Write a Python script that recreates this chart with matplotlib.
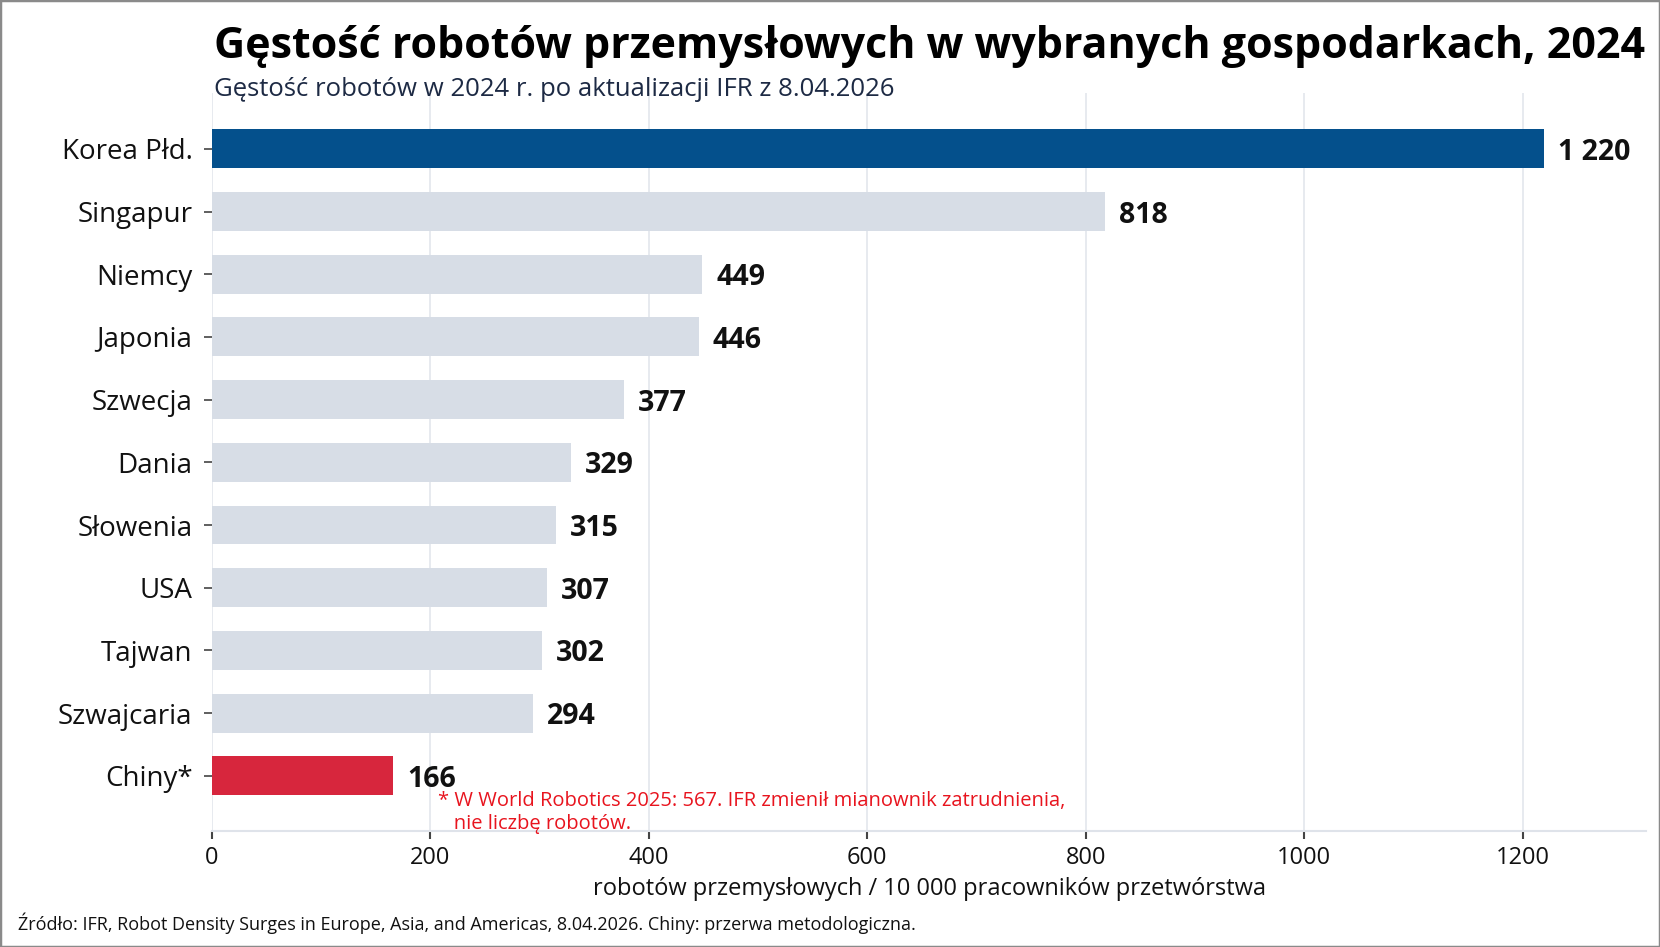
import matplotlib
matplotlib.use("Agg")
import matplotlib.pyplot as plt
from matplotlib.patches import Rectangle

# data
countries = ["Korea Płd.", "Singapur", "Niemcy", "Japonia", "Szwecja", "Dania",
             "Słowenia", "USA", "Tajwan", "Szwajcaria", "Chiny*"]
density = [1220, 818, 449, 446, 377, 329, 315, 307, 302, 294, 166]
value_labels = ["1 220", "818", "449", "446", "377", "329", "315", "307", "302", "294", "166"]
x_ticks = [0, 200, 400, 600, 800, 1000, 1200]

title = "Gęstość robotów przemysłowych w wybranych gospodarkach, 2024"
subtitle = "Gęstość robotów w 2024 r. po aktualizacji IFR z 8.04.2026"
xlabel = "robotów przemysłowych / 10 000 pracowników przetwórstwa"
note = "* W World Robotics 2025: 567. IFR zmienił mianownik zatrudnienia,\n   nie liczbę robotów."
source = "Źródło: IFR, Robot Density Surges in Europe, Asia, and Americas, 8.04.2026. Chiny: przerwa metodologiczna."

blue = "#04508c"
grey = "#d7dde6"
red = "#d7263d"

plt.rcParams['font.family'] = ['Open Sans', 'DejaVu Sans']

W, H = 1660, 947
fig = plt.figure(figsize=(W / 100, H / 100), dpi=100)
ax = fig.add_axes([212 / W, 1 - 831 / H, (1646 - 212) / W, (831 - 93) / H])

colors = [grey] * len(countries)
colors[0] = blue
colors[-1] = red

ypos = list(range(len(countries)))
ax.barh(ypos, density, height=0.62, color=colors, zorder=2)

# value labels next to the bars
for y, v, lab in zip(ypos, density, value_labels):
    ax.annotate(lab, (v, y), xytext=(10, 0), textcoords="offset points",
                ha="left", va="center_baseline", fontsize=20.5, fontweight="bold",
                color="#111111")

ax.set_yticks(ypos)
ax.set_yticklabels(countries, fontsize=20, color="#111111")
ax.set_ylim(len(countries) - 1 + 0.88, -0.89)
ax.set_xlim(0, 1313)
ax.set_xticks(x_ticks)
ax.set_xticklabels([str(t) for t in x_ticks], fontsize=17, color="#111111")
ax.set_xlabel(xlabel, fontsize=17, color="#111111", labelpad=5)

ax.grid(axis="x", color="#e3e6ec", linewidth=1.2, zorder=0)
ax.set_axisbelow(True)
for side in ["top", "right", "left"]:
    ax.spines[side].set_visible(False)
ax.spines["bottom"].set_color("#dfe3ea")
ax.spines["bottom"].set_linewidth(1.5)
ax.tick_params(axis="y", length=6, width=1.2, color="#444444", pad=8)
ax.tick_params(axis="x", length=6, width=1.5, color="#444444", pad=5)

ax.text(207, 10.24, note, fontsize=14.5, color="#e8141e", ha="left", va="top",
        linespacing=1.2)

fig.text(214 / W, 1 - 46 / H, title, fontsize=31, fontweight="bold",
         color="#000000", ha="left", va="center")
fig.text(214 / W, 1 - 90 / H, subtitle, fontsize=18.5, color="#1d2a44",
         ha="left", va="center")
fig.text(18 / W, 1 - 923 / H, source, fontsize=13, color="#111111",
         ha="left", va="center")

fig.patches.append(Rectangle((0, 0), 1, 1, transform=fig.transFigure, fill=False,
                             edgecolor="#8a8a8a", linewidth=2.5))

fig.savefig("out.png", dpi=100, facecolor="white")
